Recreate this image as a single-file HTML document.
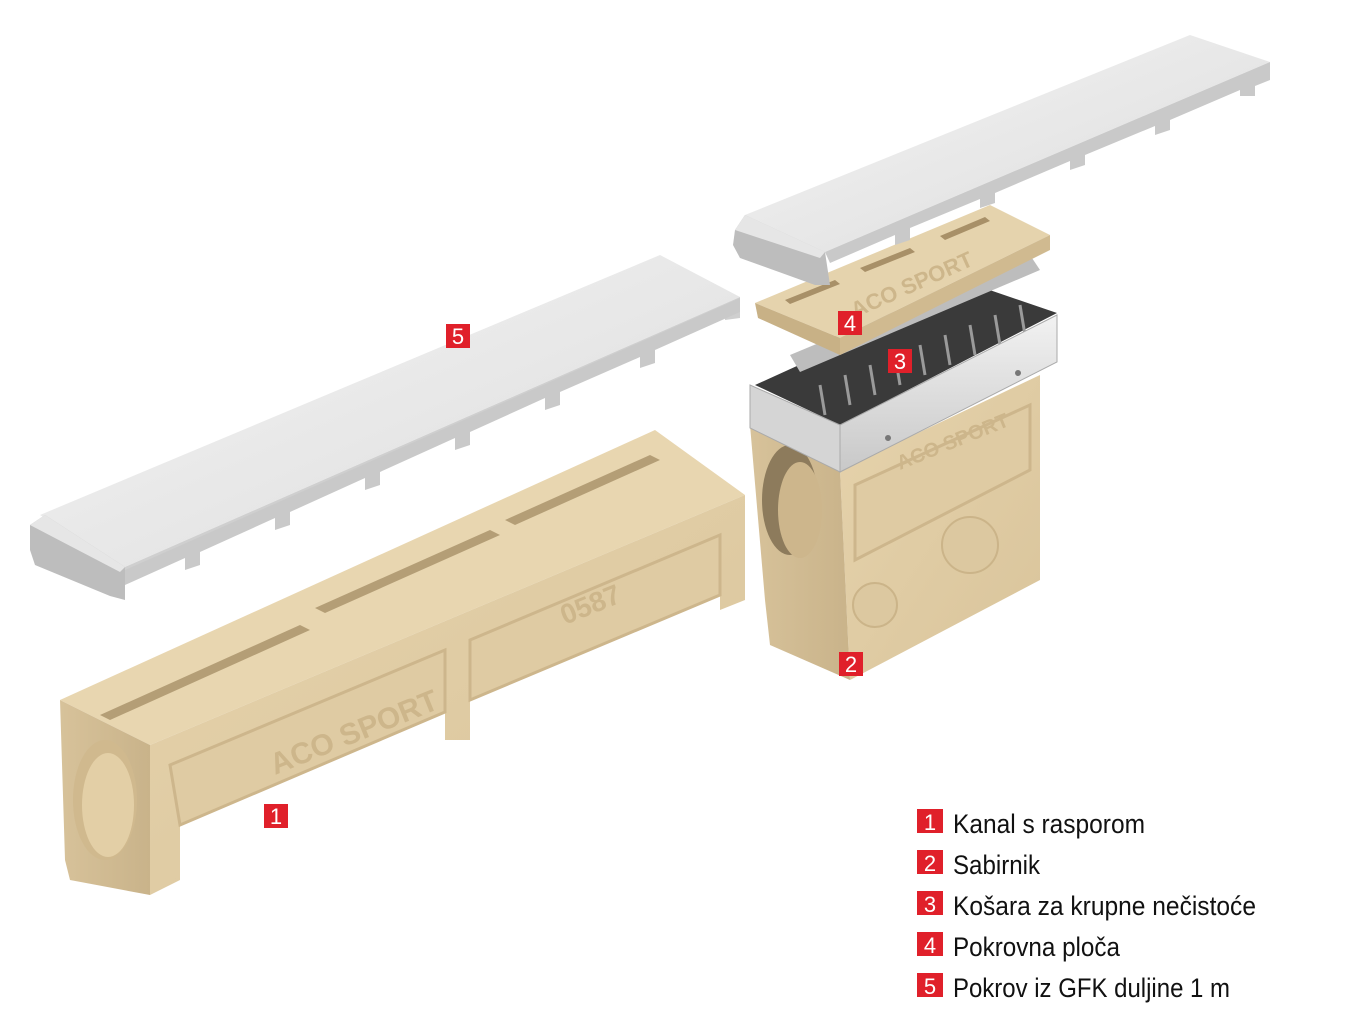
<!DOCTYPE html>
<html><head><meta charset="utf-8"><style>
html,body{margin:0;padding:0;background:#fff;}
svg{display:block;}
.lg{font-family:"Liberation Sans Narrow","Liberation Sans",sans-serif;font-size:27px;fill:#111;}
.nb{font-family:"Liberation Sans Narrow","Liberation Sans",sans-serif;font-size:22px;fill:#fff;}
</style></head><body>
<svg width="1370" height="1030" viewBox="0 0 1370 1030" xmlns="http://www.w3.org/2000/svg">
<defs>
<linearGradient id="beige" x1="0" y1="0" x2="1" y2="1"><stop offset="0" stop-color="#e6d3ac"/><stop offset="1" stop-color="#d9c49b"/></linearGradient>
<linearGradient id="bside" x1="0" y1="0" x2="1" y2="0"><stop offset="0" stop-color="#d7c29a"/><stop offset="1" stop-color="#c9b38a"/></linearGradient>
<linearGradient id="cov" x1="0" y1="0" x2="1" y2="1"><stop offset="0" stop-color="#f4f4f4"/><stop offset="1" stop-color="#dcdcdc"/></linearGradient>
<linearGradient id="met" x1="0" y1="0" x2="0" y2="1"><stop offset="0" stop-color="#f2f2f2"/><stop offset="1" stop-color="#c8c8c8"/></linearGradient>
</defs>

<!-- LEFT CHANNEL (1) -->
<polygon points="60,700 655,430 745,495 150,745" fill="#e8d6b0"/>
<polygon points="100,715 300,625 310,630 110,720" fill="#b49e76"/>
<polygon points="315,608 490,530 500,535 325,613" fill="#b49e76"/>
<polygon points="505,520 650,455 660,460 515,525" fill="#b49e76"/>
<polygon points="150,745 745,495 745,600 720,610 720,595 470,700 470,740 445,740 445,712 180,825 180,880 150,895" fill="url(#beige)"/>
<polygon points="170,765 445,650 445,712 180,825" fill="#dfcba3" stroke="#cdb68c" stroke-width="3"/>
<polygon points="470,640 720,535 720,595 470,700" fill="#dfcba3" stroke="#cdb68c" stroke-width="3"/>
<polygon points="60,700 150,745 150,895 70,880 65,860" fill="url(#bside)"/>
<ellipse cx="105" cy="800" rx="32" ry="60" fill="#d0b98e"/>
<ellipse cx="108" cy="805" rx="26" ry="52" fill="#e3cfa6"/>
<text x="275" y="775" transform="rotate(-22 275 775)" font-family="Liberation Sans" font-size="30" fill="#cdb68b" font-weight="bold">ACO SPORT</text>
<text x="565" y="625" transform="rotate(-22 565 625)" font-family="Liberation Sans" font-size="28" fill="#cdb68b" font-weight="bold">0587</text>

<!-- LEFT COVER (5) -->
<polygon points="40,515 660,255 740,297 125,567" fill="url(#cov)"/>
<polygon points="125,567 740,297 740,318 725,320 725,312 125,578" fill="#cfcfcf"/>
<polygon points="125,570 740,298 740,312 655,350 655,363 640,368 640,357 560,392 560,405 545,410 545,398 470,432 470,445 455,450 455,438 380,472 380,485 365,490 365,478 290,512 290,525 275,530 275,518 200,552 200,565 185,570 185,558 125,585" fill="#c9c9c9"/>
<polygon points="30,525 45,515 125,567 125,600 110,596 35,565 30,550" fill="#bdbdbd"/>
<polygon points="30,525 45,515 125,567 120,572" fill="#e6e6e6"/>

<!-- RIGHT SABIRNIK BODY (2) -->
<polygon points="840,470 1040,375 1040,580 850,680" fill="url(#beige)"/>
<polygon points="855,485 1030,405 1030,470 855,560" fill="#dfcba3" stroke="#cdb68c" stroke-width="3"/>
<circle cx="875" cy="605" r="22" fill="#dcc8a0" stroke="#cbb489" stroke-width="2"/>
<circle cx="970" cy="545" r="28" fill="#dcc8a0" stroke="#cbb489" stroke-width="2"/>
<polygon points="750,425 840,470 850,680 770,645 765,600" fill="url(#bside)"/>
<ellipse cx="790" cy="500" rx="28" ry="55" fill="#8d7b5c"/>
<ellipse cx="800" cy="510" rx="22" ry="48" fill="#cdb68c"/>
<text x="900" y="470" transform="rotate(-22 900 470)" font-family="Liberation Sans" font-size="20" fill="#cdb68b" font-weight="bold">ACO SPORT</text>

<!-- basket interior -->
<polygon points="755,385 975,285 1057,313 840,425" fill="#3a3a3a"/>
<g fill="#8a8a8a">
<polygon points="790,355 1030,255 1040,270 800,372" fill="#bdbdbd"/>
</g>
<g stroke="#9a9a9a" stroke-width="3">
<line x1="820" y1="385" x2="825" y2="415"/><line x1="845" y1="375" x2="850" y2="405"/>
<line x1="870" y1="365" x2="875" y2="395"/><line x1="895" y1="355" x2="900" y2="385"/>
<line x1="920" y1="345" x2="925" y2="375"/><line x1="945" y1="335" x2="950" y2="365"/>
<line x1="970" y1="325" x2="975" y2="355"/><line x1="995" y1="315" x2="1000" y2="345"/>
<line x1="1020" y1="305" x2="1025" y2="335"/>
</g>
<!-- metal frame -->
<polygon points="840,425 1057,315 1057,362 840,472" fill="url(#met)" stroke="#aaa"/>
<polygon points="750,385 840,425 840,472 750,428" fill="#d5d5d5" stroke="#aaa"/>
<circle cx="888" cy="438" r="3" fill="#777"/><circle cx="1018" cy="373" r="3" fill="#777"/>

<!-- PLATE (4) -->
<polygon points="755,303 990,205 1050,235 840,338" fill="#e5d3ad"/>
<polygon points="840,338 1050,235 1050,250 840,355" fill="#d0ba90"/>
<polygon points="755,303 840,338 840,355 758,318" fill="#c8b186"/>
<polygon points="785,300 835,280 840,284 790,304" fill="#a89068"/>
<polygon points="860,268 910,248 915,252 865,272" fill="#a89068"/>
<polygon points="940,236 985,217 990,221 945,240" fill="#a89068"/>
<text x="855" y="318" transform="rotate(-24 855 318)" font-family="Liberation Sans" font-size="22" fill="#cdb68b" font-weight="bold">ACO  SPORT</text>

<!-- RIGHT COVER -->
<polygon points="745,215 1190,35 1270,62 825,252" fill="url(#cov)"/>
<polygon points="825,252 1270,62 1270,80 1255,86 1255,96 1240,96 1240,90 1170,120 1170,130 1155,135 1155,126 1085,155 1085,165 1070,170 1070,161 995,193 995,203 980,208 980,199 910,228 910,240 895,245 895,235 830,263" fill="#c9c9c9"/>
<polygon points="735,230 745,215 825,252 830,285 815,285 740,258 733,245" fill="#bdbdbd"/>
<polygon points="735,230 745,215 825,252 820,258" fill="#e6e6e6"/>

<!-- number badges -->
<g>
<rect x="446" y="324" width="24" height="24" fill="#e0202a"/><text class="nb" x="458" y="344" text-anchor="middle">5</text>
<rect x="264" y="804" width="24" height="24" fill="#e0202a"/><text class="nb" x="276" y="824" text-anchor="middle">1</text>
<rect x="839" y="652" width="24" height="24" fill="#e0202a"/><text class="nb" x="851" y="672" text-anchor="middle">2</text>
<rect x="888" y="349" width="24" height="24" fill="#e0202a"/><text class="nb" x="900" y="369" text-anchor="middle">3</text>
<rect x="838" y="311" width="24" height="24" fill="#e0202a"/><text class="nb" x="850" y="331" text-anchor="middle">4</text>
</g>

<!-- legend -->
<g>
<rect x="917" y="809" width="26" height="24" fill="#e0202a"/><text class="nb" x="930" y="830" text-anchor="middle">1</text>
<text class="lg" x="953" y="833" textLength="192" lengthAdjust="spacingAndGlyphs">Kanal s rasporom</text>
<rect x="917" y="850" width="26" height="24" fill="#e0202a"/><text class="nb" x="930" y="871" text-anchor="middle">2</text>
<text class="lg" x="953" y="874" textLength="87" lengthAdjust="spacingAndGlyphs">Sabirnik</text>
<rect x="917" y="891" width="26" height="24" fill="#e0202a"/><text class="nb" x="930" y="912" text-anchor="middle">3</text>
<text class="lg" x="953" y="915" textLength="303" lengthAdjust="spacingAndGlyphs">Košara za krupne nečistoće</text>
<rect x="917" y="932" width="26" height="24" fill="#e0202a"/><text class="nb" x="930" y="953" text-anchor="middle">4</text>
<text class="lg" x="953" y="956" textLength="167" lengthAdjust="spacingAndGlyphs">Pokrovna ploča</text>
<rect x="917" y="973" width="26" height="24" fill="#e0202a"/><text class="nb" x="930" y="994" text-anchor="middle">5</text>
<text class="lg" x="953" y="997" textLength="277" lengthAdjust="spacingAndGlyphs">Pokrov iz GFK duljine 1 m</text>
</g>
</svg>
</body></html>
